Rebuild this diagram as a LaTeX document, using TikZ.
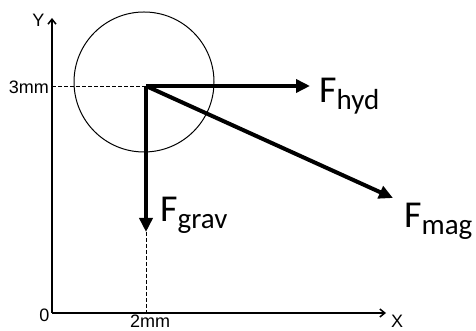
\documentclass[tikz,border=0pt]{standalone}
\usepackage{fontspec}
\setmainfont{Liberation Sans}
\newfontfamily\forcefont{Carlito}
\usepackage{tikz}
\usetikzlibrary{arrows.meta}
\newcommand{\forcelabel}[1]{{\forcefont\fontsize{38}{38}\selectfont F\raisebox{-7pt}{\fontsize{29}{29}\selectfont #1}}}

\begin{document}
\begin{tikzpicture}[x=1pt, y=1pt,
  axis/.style={line width=1.5pt, -{Straight Barb[length=5pt,width=8pt]}},
  guide/.style={line width=0.9pt, dash pattern=on 4pt off 2pt},
  force/.style={line width=4pt, -{Triangle[length=14pt,width=13pt]}},
  every node/.style={inner sep=0pt, font=\fontsize{18}{18}\selectfont}]
\useasboundingbox (0,0) rectangle (476,331);
\coordinate (O) at (52,18);
\coordinate (P) at (146,245);
\coordinate (ytip) at (52,313);
\coordinate (xtip) at (386,18);
\coordinate (hydtip) at (310,245);
\coordinate (magtip) at (393,133);
\coordinate (gravtip) at (146,99);
\coordinate (xfoot) at (146,18);
% particle
\draw[line width=1pt] (144,249) circle (70);
% axes
\draw[axis] (O) -- (ytip);
\draw[axis] (O) -- (xtip);
\node (ylabel) at (38.5,311) {Y};
\node (xlabel) at (397,9.5) {X};
\node (zero) at (44.5,16) {0};
% position guides
\draw[guide] (O |- P) -- (P);
\draw[guide] (gravtip) -- (xfoot);
\node[anchor=east] (ymark) at (49,243.5) {3mm};
\node[anchor=north] (xmark) at (150,16) {2mm};
% forces
\draw[force] (P) -- (hydtip);
\draw[force] (P) -- (magtip);
\draw[force] (P) -- (gravtip);
\node[anchor=base west] (hyd) at (319,228) {\forcelabel{hyd}};
\node[anchor=base west] (mag) at (404,103) {\forcelabel{mag}};
\node[anchor=base west] (grav) at (160,109) {\forcelabel{grav}};
\end{tikzpicture}
\end{document}
